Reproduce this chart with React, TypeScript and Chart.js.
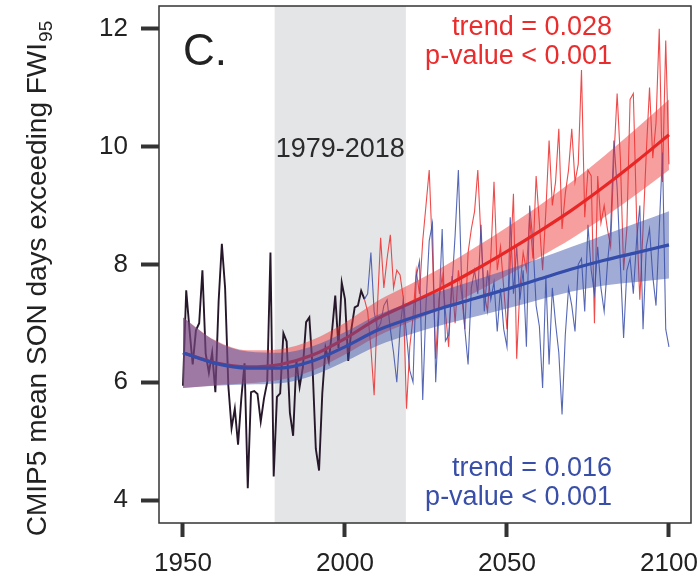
import { useEffect, useRef } from "react";
import { Chart, registerables } from "chart.js";

Chart.register(...registerables);

const FONT = '"Liberation Sans", Arial, Helvetica, sans-serif';

// Historical (shared) series, 1950-2006
const HIST_START = 1950;
const HIST = [
  5.94, 7.56, 6.9, 6.3, 6.88, 7.0, 7.9, 6.49, 6.16, 6.5,
  5.83, 7.37, 8.35, 7.6, 5.94, 5.22, 5.55, 4.94, 5.72, 6.32,
  4.2, 5.83, 5.85, 5.8, 5.33, 5.72, 6.0, 8.2, 4.4, 5.75,
  5.81, 6.83, 6.69, 5.48, 5.09, 6.36, 5.92, 6.25, 7.02, 7.1,
  6.25, 4.87, 4.5, 5.81, 6.58, 6.36, 6.86, 7.47, 6.58, 7.69,
  7.41, 6.36, 6.91, 7.27, 7.3, 7.55, 7.41,
];

// Future series, 2006-2100
const FUT_START = 2006;
const RED = [
  7.41, 7.2, 6.58, 5.78, 7.26, 8.45, 7.6, 8.1, 8.5, 7.6,
  7.9, 7.82, 7.43, 5.55, 6.6, 7.1, 7.9, 7.5, 8.4, 9.0,
  9.6, 8.2, 6.4, 7.4, 7.8, 7.2, 6.6, 7.8, 7.0, 7.9,
  7.5, 6.9, 8.2, 8.6, 8.9, 9.6, 8.4, 7.5, 7.2, 8.1,
  9.4, 7.9, 8.3, 7.6, 6.9, 8.0, 9.2, 6.4, 7.6, 8.2,
  7.9, 8.8, 8.1, 9.5, 8.7, 7.9, 8.9, 10.1, 9.0, 9.4,
  10.3, 8.6, 9.2, 9.6, 10.3, 9.4, 9.7, 11.3, 8.8, 9.6,
  9.5, 7.0, 9.5, 8.7, 9.0, 8.6, 8.3, 9.8, 10.9, 9.8,
  7.9, 8.6, 10.8, 10.9, 8.8, 7.4, 8.6, 9.9, 11.0, 9.8,
  10.4, 12.0, 9.4, 11.8, 9.7,
];
const BLUE = [
  7.41, 7.5, 8.2, 7.2, 6.9, 7.0, 7.3, 7.4, 6.9, 6.5,
  6.0, 6.9, 7.4, 6.8, 6.2, 6.0, 7.8, 8.05, 5.7, 7.3,
  8.4, 8.7, 6.0, 7.2, 8.6, 6.7, 6.8, 7.6, 8.5, 9.6,
  7.7, 6.9, 6.3, 7.6, 7.9, 7.5, 8.67, 7.2, 7.9, 7.4,
  7.7, 6.86, 7.6, 6.9, 6.6, 8.8, 7.5, 8.3, 7.4, 7.9,
  6.6, 9.0, 8.4, 7.3, 6.95, 5.9, 7.8, 6.3, 7.6, 7.0,
  6.5, 5.45, 6.8, 7.6, 7.3, 6.86, 8.0, 8.1, 7.2, 8.67,
  7.9, 7.5, 8.3, 7.6, 7.2, 8.0, 8.6, 10.1, 9.3, 8.0,
  6.75, 7.9, 8.1, 7.5, 8.4, 9.0, 6.9, 8.3, 8.6, 7.8,
  7.3, 8.6, 9.9, 6.9, 6.6,
];

// Smoothed trends with confidence bands
const TREND_YEARS = [1950, 1960, 1970, 1980, 1990, 2000, 2010, 2020, 2030, 2040, 2050, 2060, 2070, 2080, 2090, 2100];
const RED_FIT = [6.5, 6.33, 6.26, 6.3, 6.46, 6.74, 7.08, 7.34, 7.6, 7.9, 8.22, 8.56, 8.92, 9.32, 9.75, 10.2];
const RED_LO = [5.9, 5.95, 5.98, 6.04, 6.2, 6.47, 6.78, 7.02, 7.25, 7.52, 7.81, 8.12, 8.44, 8.8, 9.19, 9.6];
const RED_HI = [7.1, 6.71, 6.54, 6.56, 6.72, 7.01, 7.38, 7.66, 7.95, 8.28, 8.63, 9.0, 9.4, 9.84, 10.31, 10.8];
const BLUE_FIT = [6.5, 6.32, 6.24, 6.24, 6.36, 6.6, 6.88, 7.08, 7.26, 7.42, 7.58, 7.75, 7.92, 8.07, 8.2, 8.33];
const BLUE_LO = [5.9, 5.94, 5.96, 5.98, 6.11, 6.35, 6.62, 6.81, 6.97, 7.11, 7.25, 7.4, 7.54, 7.64, 7.7, 7.76];
const BLUE_HI = [7.1, 6.7, 6.52, 6.5, 6.61, 6.85, 7.14, 7.35, 7.55, 7.73, 7.91, 8.1, 8.3, 8.5, 8.7, 8.9];

const X_TICKS = [1950, 2000, 2050, 2100];
const Y_TICKS = [4, 6, 8, 10, 12];
const X_MIN = 1942.6;
const X_MAX = 2106.8;
const Y_MIN = 3.61;
const Y_MAX = 12.385;
const SHADE = [1978.3, 2018.8];
const SHADE_LABEL = "1979-2018";
const PANEL = "C.";
const RED_TEXT = ["trend = 0.028", "p-value < 0.001"];
const BLUE_TEXT = ["trend = 0.016", "p-value < 0.001"];
const Y_TITLE = "CMIP5 mean SON days exceeding FWI";
const Y_TITLE_SUB = "95";

const RED_C = "rgb(234,44,44)";
const BLUE_C = "rgb(56,78,168)";

export default function App() {
  const ref = useRef<HTMLCanvasElement>(null);

  useEffect(() => {
    const pts = (start: number, arr: number[]) => arr.map((v, i) => ({ x: start + i, y: v }));
    const tr = (arr: number[]) => arr.map((v, i) => ({ x: TREND_YEARS[i], y: v }));
    const clear = "rgba(0,0,0,0)";
    const noPad = (s: any) => {
      s.paddingTop = 0;
      s.paddingBottom = 0;
      s.paddingLeft = 0;
      s.paddingRight = 0;
    };

    const decor = {
      id: "decor",
      beforeDatasetsDraw(chart: any) {
        const { ctx, chartArea, scales } = chart;
        const x1 = scales.x.getPixelForValue(SHADE[0]);
        const x2 = scales.x.getPixelForValue(SHADE[1]);
        ctx.save();
        ctx.fillStyle = "rgb(228,229,231)";
        ctx.fillRect(x1, chartArea.top, x2 - x1, chartArea.bottom - chartArea.top);
        ctx.fillStyle = "#2a2a2a";
        ctx.font = `27px ${FONT}`;
        ctx.textAlign = "center";
        ctx.textBaseline = "alphabetic";
        ctx.fillText(SHADE_LABEL, (x1 + x2) / 2, 157);
        ctx.restore();
      },
      afterDraw(chart: any) {
        const { ctx, chartArea } = chart;
        ctx.save();
        ctx.strokeStyle = "#333";
        ctx.lineWidth = 1.5;
        ctx.strokeRect(chartArea.left, chartArea.top, chartArea.right - chartArea.left, chartArea.bottom - chartArea.top);

        ctx.textBaseline = "alphabetic";
        ctx.fillStyle = "#222";
        ctx.font = `44px ${FONT}`;
        ctx.textAlign = "left";
        ctx.fillText(PANEL, 183, 65);

        ctx.font = `27px ${FONT}`;
        ctx.textAlign = "right";
        ctx.fillStyle = RED_C;
        ctx.fillText(RED_TEXT[0], 612, 35);
        ctx.fillText(RED_TEXT[1], 612, 64);
        ctx.fillStyle = BLUE_C;
        ctx.fillText(BLUE_TEXT[0], 612, 476);
        ctx.fillText(BLUE_TEXT[1], 612, 505);

        // rotated y title with subscript
        ctx.fillStyle = "#222";
        ctx.font = `28px ${FONT}`;
        const w1 = ctx.measureText(Y_TITLE).width;
        ctx.font = `19px ${FONT}`;
        const w2 = ctx.measureText(Y_TITLE_SUB).width;
        const total = w1 + w2;
        ctx.translate(46, 279);
        ctx.rotate(-Math.PI / 2);
        ctx.textAlign = "left";
        ctx.font = `28px ${FONT}`;
        ctx.fillText(Y_TITLE, -total / 2, 0);
        ctx.font = `19px ${FONT}`;
        ctx.fillText(Y_TITLE_SUB, -total / 2 + w1 + 1, 6);
        ctx.restore();
      },
    };

    const bandBase = { pointRadius: 0, borderWidth: 1, borderColor: clear, tension: 0.4, cubicInterpolationMode: "monotone" as const };

    const chart = new Chart(ref.current as HTMLCanvasElement, {
      type: "line",
      data: {
        datasets: [
          { label: "hist", data: pts(HIST_START, HIST), borderColor: "#26182a", borderWidth: 1.9, pointRadius: 0, tension: 0, fill: false, order: 100 },
          { label: "red", data: pts(FUT_START, RED), borderColor: "rgba(236,44,44,0.85)", borderWidth: 1.1, pointRadius: 0, tension: 0, fill: false, order: 90 },
          { label: "blue", data: pts(FUT_START, BLUE), borderColor: "rgba(56,78,168,0.85)", borderWidth: 1.1, pointRadius: 0, tension: 0, fill: false, order: 80 },
          { label: "redLo", data: tr(RED_LO), ...bandBase, fill: false, order: 71 },
          { label: "redHi", data: tr(RED_HI), ...bandBase, fill: "-1", backgroundColor: "rgba(238,50,50,0.47)", order: 70 },
          { label: "redFit", data: tr(RED_FIT), pointRadius: 0, borderWidth: 3.2, borderColor: "rgb(232,38,38)", tension: 0.4, cubicInterpolationMode: "monotone", fill: false, order: 60 },
          { label: "blueLo", data: tr(BLUE_LO), ...bandBase, fill: false, order: 51 },
          { label: "blueHi", data: tr(BLUE_HI), ...bandBase, fill: "-1", backgroundColor: "rgba(56,78,168,0.47)", order: 50 },
          { label: "blueFit", data: tr(BLUE_FIT), pointRadius: 0, borderWidth: 3.2, borderColor: "rgb(52,76,170)", tension: 0.4, cubicInterpolationMode: "monotone", fill: false, order: 40 },
        ],
      },
      options: {
        animation: false,
        responsive: true,
        maintainAspectRatio: false,
        devicePixelRatio: 1,
        layout: { padding: { top: 6, right: 9, left: 0, bottom: 0 } },
        plugins: { legend: { display: false }, tooltip: { enabled: false } },
        elements: { point: { radius: 0 } },
        scales: {
          x: {
            type: "linear",
            min: X_MIN,
            max: X_MAX,
            afterBuildTicks: (s: any) => { s.ticks = X_TICKS.map((v) => ({ value: v })); },
            afterFit: (s: any) => { s.height = 53; noPad(s); },
            ticks: { color: "#222", font: { family: FONT, size: 26 }, padding: 11, maxRotation: 0, autoSkip: false, callback: (v: any) => String(v) },
            grid: { drawOnChartArea: false, drawTicks: true, tickLength: 14, tickWidth: 4, tickColor: "#333" },
            border: { display: false },
          },
          y: {
            type: "linear",
            min: Y_MIN,
            max: Y_MAX,
            afterBuildTicks: (s: any) => { s.ticks = Y_TICKS.map((v) => ({ value: v })); },
            afterFit: (s: any) => { s.width = 159; noPad(s); },
            ticks: { color: "#222", font: { family: FONT, size: 26 }, padding: 13, autoSkip: false, callback: (v: any) => String(v) },
            grid: { drawOnChartArea: false, drawTicks: true, tickLength: 18, tickWidth: 4, tickColor: "#333" },
            border: { display: false },
          },
        },
      },
      plugins: [decor],
    });
    return () => chart.destroy();
  }, []);

  return (
    <div style={{ position: "absolute", left: 0, top: 0, width: 700, height: 576, background: "#fff" }}>
      <canvas ref={ref} />
    </div>
  );
}
